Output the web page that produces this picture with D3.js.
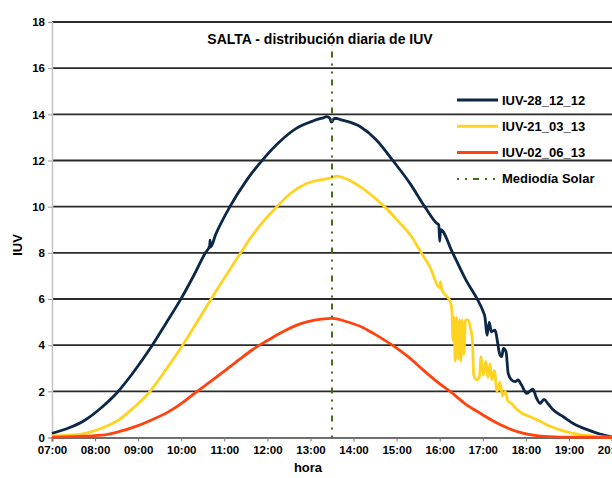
<!DOCTYPE html>
<html>
<head>
<meta charset="utf-8">
<script src="https://cdn.jsdelivr.net/npm/d3@7"></script>
<style>
  html, body { margin: 0; padding: 0; background: #fff; }
  svg { display: block; font-family: "Liberation Sans", Arial, sans-serif; font-weight: bold; }
</style>
</head>
<body>
<svg id="chart" width="612" height="478"></svg>
<script>
// ---- data (hour of day, IUV) ----
const title = "SALTA - distribución diaria de IUV";
const xLabel = "hora";
const yLabel = "IUV";
const hourTicks = [7, 8, 9, 10, 11, 12, 13, 14, 15, 16, 17, 18, 19, 20];
const iuvTicks = [0, 2, 4, 6, 8, 10, 12, 14, 16, 18];
const seriesNames = ["IUV-28_12_12", "IUV-21_03_13", "IUV-02_06_13"];
const noonName = "Mediodía Solar";
const solarNoon = 13.5;
const solarNoonTop = 17;

const hours_28_12_12 = [7.0, 7.4, 7.77, 8.15, 8.51, 8.86, 9.32, 9.63, 9.98, 10.3, 10.56, 10.66, 10.67, 10.68, 10.8, 11.13, 11.52, 11.9, 12.29, 12.68, 13.07, 13.2, 13.3, 13.38, 13.45, 13.49, 13.55, 13.61, 13.68, 14.15, 14.53, 14.92, 15.31, 15.66, 15.93, 15.98, 16.0, 16.02, 16.3, 16.63, 16.87, 17.0, 17.05, 17.10, 17.15, 17.20, 17.28, 17.40, 17.44, 17.48, 17.54, 17.59, 17.67, 17.75, 17.82, 17.90, 18.02, 18.16, 18.25, 18.33, 18.42, 18.52, 18.64, 18.87, 19.10, 19.41, 19.72, 20.0];
const iuv_28_12_12   = [0.18, 0.42, 0.76, 1.3, 1.94, 2.75, 3.97, 4.9, 5.96, 7.05, 8.0, 8.3, 8.55, 8.25, 8.8, 10.0, 11.15, 12.05, 12.82, 13.4, 13.72, 13.8, 13.85, 13.9, 13.82, 13.66, 13.82, 13.82, 13.78, 13.47, 12.89, 11.98, 11.01, 9.98, 9.28, 9.2, 8.5, 9.0, 8.0, 6.75, 6.0, 5.5, 5.22, 4.43, 5.0, 4.58, 4.65, 3.57, 3.5, 3.86, 3.71, 2.78, 2.49, 2.42, 2.49, 2.27, 1.91, 2.09, 1.7, 1.48, 1.65, 1.45, 1.19, 0.9, 0.61, 0.35, 0.15, 0.03];

const hours_21_03_13 = [7.0, 7.4, 7.77, 8.15, 8.55, 8.9, 9.25, 9.65, 10.02, 10.35, 10.68, 11.05, 11.45, 11.63, 11.9, 12.21, 12.52, 12.91, 13.22, 13.49, 13.61, 13.68, 14.15, 14.46, 14.73, 15.08, 15.35, 15.54, 15.77, 16.0, 16.02, 16.05, 16.17, 16.24, 16.28, 16.31, 16.33, 16.36, 16.39, 16.43, 16.46, 16.49, 16.52, 16.56, 16.60, 16.66, 16.72, 16.76, 16.79, 16.86, 16.92, 16.96, 17.01, 17.07, 17.12, 17.17, 17.21, 17.27, 17.33, 17.40, 17.46, 17.52, 17.58, 17.68, 17.75, 17.91, 18.1, 18.33, 18.55, 18.79, 19.0, 19.26, 19.72, 20.0];
const iuv_21_03_13   = [0.07, 0.1, 0.18, 0.4, 0.76, 1.3, 1.94, 2.95, 3.96, 4.95, 5.96, 7.05, 8.2, 8.7, 9.35, 9.98, 10.55, 11.0, 11.16, 11.25, 11.32, 11.3, 10.87, 10.43, 9.98, 9.28, 8.7, 8.1, 7.4, 6.5, 6.75, 6.4, 6.1, 5.9, 5.6, 4.2, 5.2, 3.3, 5.2, 3.4, 5.1, 3.3, 5.1, 3.6, 5.1, 5.1, 4.7, 4.2, 2.7, 2.5, 2.6, 3.5, 2.7, 3.3, 2.6, 3.2, 2.5, 2.9, 2.0, 2.4, 1.8, 2.0, 1.6, 1.45, 1.3, 1.05, 0.9, 0.7, 0.5, 0.33, 0.22, 0.12, 0.04, 0.01];

const hours_02_06_13 = [7.0, 7.5, 8.16, 8.55, 8.93, 9.3, 9.71, 10.0, 10.33, 10.7, 11.03, 11.35, 11.64, 12.0, 12.38, 12.76, 13.1, 13.49, 13.92, 14.2, 14.46, 14.7, 14.96, 15.3, 15.62, 15.95, 16.28, 16.6, 16.94, 17.2, 17.4, 17.86, 18.33, 18.8, 19.5, 20.0];
const iuv_02_06_13   = [0.02, 0.04, 0.1, 0.25, 0.47, 0.75, 1.12, 1.47, 1.94, 2.45, 2.92, 3.38, 3.79, 4.2, 4.6, 4.92, 5.08, 5.16, 4.97, 4.78, 4.51, 4.24, 3.93, 3.45, 2.92, 2.4, 1.94, 1.45, 1.05, 0.76, 0.56, 0.22, 0.06, 0.02, 0.01, 0.0];

const seriesColors = ["#0c2747", "#ffd320", "#ff420e"];
const noonColor = "#3f6e17";
const noonDash = "2 6 2 6 6 6";

// ---- chart ----
const svg = d3.select("#chart");
const x = d3.scaleLinear().domain([7, 20]).range([52, 612]);
const y = d3.scaleLinear().domain([0, 18]).range([437.5, 22]);

// gridlines
svg.append("g").selectAll("line").data(iuvTicks.filter(d => d > 0)).join("line")
  .attr("x1", x(7)).attr("x2", x(20))
  .attr("y1", d => y(d)).attr("y2", d => y(d))
  .attr("stroke", "#2a2a2a").attr("stroke-width", 1.8);

// y axis
const yAxis = svg.append("g").attr("transform", `translate(${x(7)},0)`)
  .call(d3.axisLeft(y).tickValues(iuvTicks).tickSize(4).tickPadding(3).tickFormat(d3.format("d")));
yAxis.select(".domain").attr("stroke", "#c4c4c4").attr("stroke-width", 1.5);
yAxis.selectAll(".tick line").attr("stroke", "#9a9a9a");
yAxis.selectAll("text").attr("font-size", 11.5).attr("font-weight", "bold").attr("fill", "#000")
  .attr("font-family", "Liberation Sans, Arial, sans-serif");

// x axis
const xAxis = svg.append("g").attr("transform", `translate(0,${y(0)})`)
  .call(d3.axisBottom(x).tickValues(hourTicks).tickSize(4).tickPadding(4)
    .tickFormat(h => String(h).padStart(2, "0") + ":00"));
xAxis.select(".domain").attr("stroke", "#6e6e6e").attr("stroke-width", 2);
xAxis.selectAll(".tick line").attr("stroke", "#7a7a7a");
xAxis.selectAll("text").attr("font-size", 11.5).attr("font-weight", "bold").attr("fill", "#000")
  .attr("font-family", "Liberation Sans, Arial, sans-serif");

// series
const line = d3.line().x(d => x(d[0])).y(d => y(d[1])).curve(d3.curveMonotoneX);
const seriesData = [
  d3.zip(hours_28_12_12, iuv_28_12_12),
  d3.zip(hours_21_03_13, iuv_21_03_13),
  d3.zip(hours_02_06_13, iuv_02_06_13)
];
svg.append("g").selectAll("path").data(seriesData).join("path")
  .attr("d", line)
  .attr("fill", "none")
  .attr("stroke", (d, i) => seriesColors[i])
  .attr("stroke-width", 2.8)
  .attr("stroke-linejoin", "round");

// solar noon
svg.append("line")
  .attr("x1", x(solarNoon)).attr("x2", x(solarNoon))
  .attr("y1", y(0)).attr("y2", y(solarNoonTop))
  .attr("stroke", noonColor).attr("stroke-width", 2)
  .attr("stroke-dasharray", noonDash);

// title
svg.append("text").attr("x", 320).attr("y", 44).attr("text-anchor", "middle")
  .attr("font-size", 14).text(title);

// axis titles
svg.append("text").attr("x", 308).attr("y", 472).attr("text-anchor", "middle")
  .attr("font-size", 13).text(xLabel);
svg.append("text").attr("transform", "translate(22,245) rotate(-90)").attr("text-anchor", "middle")
  .attr("font-size", 13).text(yLabel);

// legend
const legendItems = seriesNames.map((n, i) => ({ name: n, color: seriesColors[i], dash: null }))
  .concat([{ name: noonName, color: noonColor, dash: noonDash }]);
const lg = svg.append("g").selectAll("g").data(legendItems).join("g")
  .attr("transform", (d, i) => `translate(457,${100 + i * 26.3})`);
lg.append("line").attr("x1", 0).attr("x2", 41).attr("y1", 0).attr("y2", 0)
  .attr("stroke", d => d.color).attr("stroke-width", d => d.dash ? 2 : 3)
  .attr("stroke-dasharray", d => d.dash);
lg.append("text").attr("x", 45).attr("y", 0).attr("dy", "0.35em")
  .attr("font-size", 13).text(d => d.name);
</script>
</body>
</html>
